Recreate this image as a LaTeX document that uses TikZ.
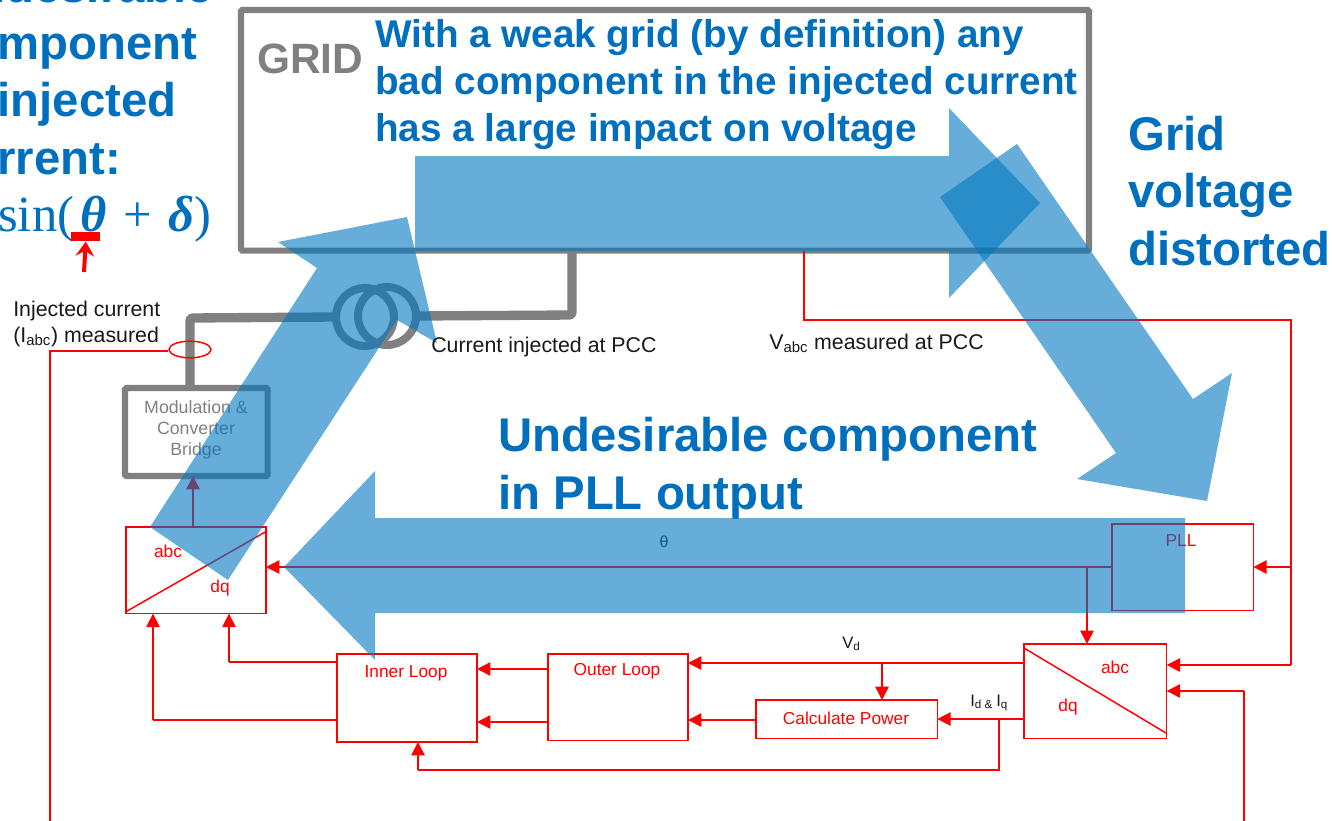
\documentclass[tikz,border=0pt]{standalone}
\usepackage{fontspec}
\setmainfont{Liberation Sans}
\newfontfamily\mathserif{Liberation Serif}
\usetikzlibrary{arrows.meta,shapes.geometric}
\definecolor{bigblue}{HTML}{0077C0}
\definecolor{headblue}{HTML}{0070BE}
\definecolor{gridgrey}{HTML}{808080}
\tikzset{
  wire/.style={draw=red,line width=1.1pt,line join=miter},
  wirearrow/.style={wire,-{Triangle[length=10pt,width=10pt]}},
  redbox/.style={draw=red,line width=1.1pt,rectangle,inner sep=0pt,outer sep=0pt,anchor=north west},
  greybox/.style={draw=gridgrey,line width=4.6pt,rectangle,rounded corners=1pt,inner sep=0pt,outer sep=0pt,anchor=north west},
  greywire/.style={draw=gridgrey,line width=7pt,line join=round,rounded corners=2pt},
  coil/.style={draw=gridgrey,line width=6pt,circle,minimum size=43.5pt,inner sep=0pt,outer sep=0pt,fill=none},
  flow/.style={fill=bigblue,fill opacity=0.6,draw=none},
  bighead/.style={text=headblue,font=\fontsize{35.5pt}{43pt}\selectfont\bfseries,align=left,anchor=base west,inner sep=0pt},
  blocktext/.style={text=red,font=\fontsize{13pt}{15pt}\selectfont,inner sep=0pt},
  note/.style={text=black!90,font=\fontsize{16pt}{19.5pt}\selectfont,inner sep=0pt,anchor=base west,align=left}
}
\begin{document}
\begin{tikzpicture}[x=0.75pt,y=-0.75pt]
\useasboundingbox (0,0) rectangle (1332,821);
\clip (0,0) rectangle (1332,821);
% --- grid and converter
\node[greybox,minimum width=636pt,minimum height=180.5pt] (grid) at (241,10) {};
\node[greybox,minimum width=107pt,minimum height=66pt] (bridge) at (125,388) {};
\node[coil] (coilL) at (365,317) {};
\node[coil] (coilR) at (387,316) {};
\coordinate (wireA) at (572,315);
\coordinate (wireB) at (190,318);
\draw[greywire] (grid.south -| wireA) -- (wireA) -- (coilR.east);
\draw[greywire] (bridge.north -| wireB) -- (wireB) -- (coilL.west);
% --- control blocks
\node[redbox,minimum width=105pt,minimum height=65pt] (park) at (126,527) {};
\node[redbox,minimum width=105pt,minimum height=66pt] (inner) at (337,654) {};
\node[redbox,minimum width=105pt,minimum height=65pt] (outer) at (548,654) {};
\node[redbox,minimum width=136pt,minimum height=29pt] (power) at (756,700) {};
\node[redbox,minimum width=107pt,minimum height=71pt] (clarke) at (1024,644) {};
\node[redbox,minimum width=106pt,minimum height=65pt] (pll) at (1112,524) {};
\node[draw=red,line width=1.1pt,ellipse,minimum width=31.5pt,minimum height=12.5pt,inner sep=0pt] (sensor) at (190,349.5) {};
\draw[wire] (park.south west) ++(0,-2) -- (267,531);
\draw[wire] (clarke.north west) ++(0,4) -- (1166,733);
% --- connectors
\coordinate (vtap) at (804,320);
\coordinate (vrail) at (1291,320);
\coordinate (vin) at (1291,665);
\coordinate (vpll) at (1291,567);
\coordinate (iin) at (1244,691);
\coordinate (iend) at (1244,821);
\coordinate (ibot) at (50,821);
\coordinate (icorner) at (50,351);
\coordinate (thetaTap) at (1087,567);
\coordinate (vdTap) at (882,663);
\coordinate (idTap) at (999,719);
\coordinate (fbCorner) at (999,770);
\coordinate (fbIn) at (418,770);
\coordinate (innerLow) at (153,720);
\coordinate (innerHigh) at (229,662);
\draw[wire] (grid.south -| vtap) -- (vtap) -- (vrail) -- (vin);
\draw[wirearrow] (vin) -- (clarke.east |- vin);
\draw[wirearrow] (vpll) -- (pll.east |- vpll);
\draw[wire] (iend) -- (iin);
\draw[wirearrow] (iin) -- (clarke.east |- iin);
\draw[wire] (sensor.west |- icorner) -- (icorner) -- (ibot);
\draw[wirearrow] (pll.west |- thetaTap) -- (park.east |- thetaTap);
\draw[wirearrow] (thetaTap) -- (clarke.north -| thetaTap);
\draw[wirearrow] (park.north -| 193,0) -- (bridge.south -| 193,0);
\draw[wirearrow] (clarke.west |- vdTap) -- (outer.east |- vdTap);
\draw[wirearrow] (vdTap) -- (power.north -| vdTap);
\draw[wirearrow] (clarke.west |- idTap) -- (power.east |- idTap);
\draw[wire] (idTap) -- (fbCorner) -- (fbIn);
\draw[wirearrow] (fbIn) -- (inner.south -| fbIn);
\draw[wirearrow] (power.west |- 0,720) -- (outer.east |- 0,720);
\draw[wirearrow] (outer.west |- 0,669) -- (inner.east |- 0,669);
\draw[wirearrow] (outer.west |- 0,722) -- (inner.east |- 0,722);
\draw[wire] (inner.west |- innerLow) -- (innerLow);
\draw[wirearrow] (innerLow) -- (park.south -| innerLow);
\draw[wire] (inner.west |- innerHigh) -- (innerHigh);
\draw[wirearrow] (innerHigh) -- (park.south -| innerHigh);
% --- block captions (under the blue overlay)
\node[blocktext] (tabc1) at (168,551) {abc};
\node[blocktext] (tdq1) at (220,588) {dq};
\node[blocktext] (tinner) at (406,673) {Inner Loop};
\node[blocktext] (touter) at (617,671) {Outer Loop};
\node[blocktext] (tpower) at (846,718) {Calculate Power};
\node[blocktext] (tabc2) at (1115,667) {abc};
\node[blocktext] (tdq2) at (1068,707) {dq};
\node[blocktext] (tpll) at (1181,541) {PLL};
\node[text=black!85,font=\fontsize{12pt}{14pt}\selectfont,inner sep=0pt] (ttheta) at (664,542) {θ};
\node[text=gridgrey,font=\fontsize{13.3pt}{16pt}\selectfont,align=center,inner sep=0pt] (tbridge) at (196,430) {Modulation \&\\Converter\\Bridge};
% --- blue flow arrows
\path[flow] (415,156) -- (949,156) -- (949,108) -- (1040,203) -- (949,298) -- (949,251) -- (415,251) -- cycle;
\path[flow] (1017,144) -- (1193,399) -- (1232,373) -- (1207,501) -- (1077,479) -- (1116,453) -- (940,197) -- cycle;
\path[flow] (1185,518) -- (375,518) -- (375,471) -- (284,567) -- (375,660) -- (375,613) -- (1185,613) -- cycle;
\path[flow] (228,580) -- (397,320) -- (437,343) -- (407,217) -- (278,242) -- (317,268) -- (150,527) -- cycle;
% --- headings and notes (multi-line nodes are placed by their last baseline)
\node[text=gridgrey,font=\fontsize{31.8pt}{32pt}\selectfont\bfseries,anchor=base west,inner sep=0pt] (tgrid) at (257,73) {GRID};
\node[bighead,font=\fontsize{29pt}{35pt}\selectfont\bfseries] (tweak) at (375,141) {With a weak grid (by definition) any\\bad component in the injected current\\has a large impact on voltage};
\node[bighead] (tleft) at (-58,174) {Undesirable\\component\\in injected\\current:};
\node[bighead] (tvolt) at (1128,265) {Grid\\voltage\\distorted};
\node[bighead] (tpllout) at (498,509) {Undesirable component\\in PLL output};
\node[text=headblue,font=\fontsize{38pt}{40pt}\selectfont\mathserif,anchor=base west,inner sep=0pt] (tsin) at (-2,231) {sin(\hspace{4.5pt}\textbf{\textit{θ}}\hspace{12.5pt}+\hspace{12.5pt}\textbf{\textit{δ}})};
\node[fill=red,minimum width=21.75pt,minimum height=6.75pt,inner sep=0pt,anchor=north west] (bar) at (71,232) {};
\coordinate (barArrowEnd) at (84,272);
\draw[red,line width=3pt,-{Stealth[length=11pt,width=14pt,inset=4pt]}] (barArrowEnd) -- (bar.south);
\node[note] (tinj) at (13,342) {Injected current\\(I\textsubscript{abc}) measured};
\node[note] (tcur) at (431,352) {Current injected at PCC};
\node[note] (tvabc) at (769,349) {V\textsubscript{abc} measured at PCC};
\node[note,font=\fontsize{12.5pt}{14pt}\selectfont] (tvd) at (842,648) {V\textsubscript{d}};
\node[note,font=\fontsize{12.5pt}{14pt}\selectfont] (tid) at (970,706) {I\textsubscript{d \& }I\textsubscript{q}};
\end{tikzpicture}
\end{document}
